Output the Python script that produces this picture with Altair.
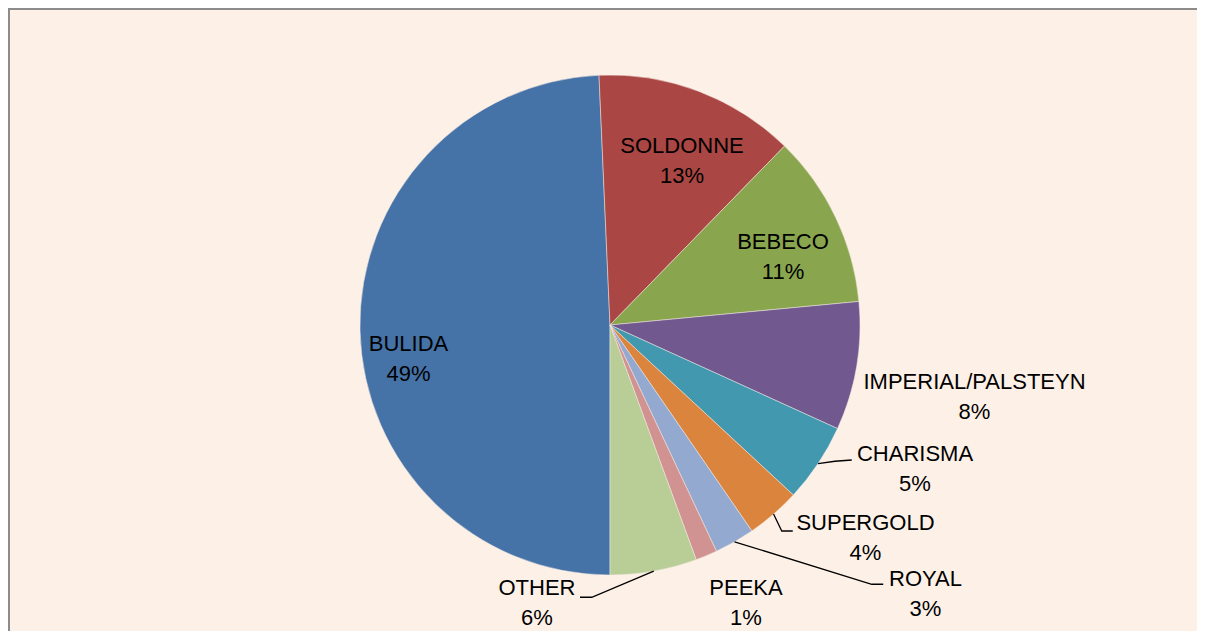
import math
import altair as alt
import pandas as pd

# ---- data ----
brands = ["BULIDA", "SOLDONNE", "BEBECO", "IMPERIAL/PALSTEYN", "CHARISMA",
          "SUPERGOLD", "ROYAL", "PEEKA", "OTHER"]
shares = [49.3, 13.0, 11.2, 8.3, 5.1, 3.5, 2.6, 1.4, 5.6]
colors = ["#4572A7", "#AA4643", "#89A54E", "#71588F", "#4198AF",
          "#DB843D", "#93A9CF", "#D19392", "#B9CD96"]

# ---- layout (label placement in units of pie radius, relative to centre, y up) ----
label_dx = [-0.806, 0.288, 0.692, 1.458, 1.220, 1.022, 1.262, 0.544, -0.292]
label_dy = [-0.136, 0.656, 0.272, -0.288, -0.576, -0.852, -1.074, -1.110, -1.112]
# leader lines: brand -> [elbow, end] (start is the slice's mid-angle on the rim)
leaders = {
    "CHARISMA": [(0.90, -0.545), (0.967, -0.540)],
    "SUPERGOLD": [(0.687, -0.824), (0.731, -0.824)],
    "ROYAL": [(1.047, -1.037), (1.093, -1.037)],
    "OTHER": [(-0.073, -1.089), (-0.120, -1.089)],
}

W, H = 1189, 623
CX, CY, R = 602, 317, 250
START_DEG = 180.0
FONT = "Liberation Sans Narrow, Arial Narrow, Liberation Sans, Arial, sans-serif"
LINE_H = 30

total = sum(shares)
mid_deg = []
cum = 0.0
for v in shares:
    mid_deg.append(START_DEG + (cum + v / 2) / total * 360.0)
    cum += v

df = pd.DataFrame({
    "brand": brands,
    "share": shares,
    "idx": list(range(len(brands))),
    "label": [f"{b}\n{round(v)}%" for b, v in zip(brands, shares)],
    "lx": label_dx,
    "ly": label_dy,
})

rows = []
for b, m in zip(brands, mid_deg):
    if b in leaders:
        t = math.radians(m)
        pts = [(math.sin(t), math.cos(t))] + leaders[b]
        for i, (px, py) in enumerate(pts):
            rows.append({"brand": b, "seq": i, "x": px, "y": py})
lines_df = pd.DataFrame(rows)

xs = alt.Scale(domain=[-CX / R, (W - CX) / R], nice=False, zero=False)
ys = alt.Scale(domain=[-(H - CY) / R, CY / R], nice=False, zero=False)

arc = alt.Chart(df).mark_arc(radius=R, stroke="#f4ebe4", strokeWidth=0.5).encode(
    theta=alt.Theta("share:Q", stack=True, scale=alt.Scale(range=[math.pi, 3 * math.pi])),
    color=alt.Color("brand:N", scale=alt.Scale(domain=brands, range=colors), legend=None),
    order=alt.Order("idx:Q", sort="ascending"),
    x=alt.X(datum=0, type="quantitative", scale=xs, axis=None),
    y=alt.Y(datum=0, type="quantitative", scale=ys, axis=None),
)

lines = alt.Chart(lines_df).mark_line(color="black", strokeWidth=1.3).encode(
    x=alt.X("x:Q", scale=xs, axis=None),
    y=alt.Y("y:Q", scale=ys, axis=None),
    detail="brand:N",
    order="seq:Q",
)

text = alt.Chart(df).mark_text(
    font=FONT, fontSize=22, lineHeight=LINE_H, align="center", baseline="middle",
    lineBreak="\n", color="black", dy=-LINE_H / 2,
).encode(
    x=alt.X("lx:Q", scale=xs, axis=None),
    y=alt.Y("ly:Q", scale=ys, axis=None),
    text="label:N",
)

one = pd.DataFrame({"a": [0]})
frame_top = alt.Chart(one).mark_rule(color="#8C8C8C", strokeWidth=2).encode(
    x=alt.value(0), x2=alt.value(W), y=alt.value(1))
frame_left = alt.Chart(one).mark_rule(color="#8C8C8C", strokeWidth=2).encode(
    x=alt.value(1), y=alt.value(0), y2=alt.value(H))

chart = alt.layer(arc, lines, text, frame_top, frame_left).properties(
    width=W, height=H, padding=0, autosize="none", background="white",
).configure_view(fill="#FDF0E7", stroke="transparent")

chart.save("out.html", embed_options={"renderer": "svg", "actions": False})
